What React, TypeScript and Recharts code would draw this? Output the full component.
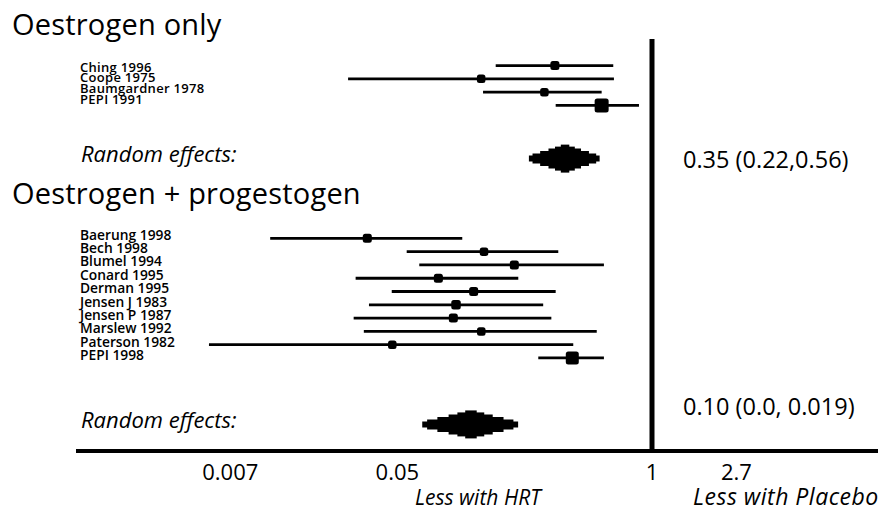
import React from 'react';
import { ScatterChart, Scatter, XAxis, YAxis, ErrorBar, ReferenceLine } from 'recharts';

// ---- Data (odds ratios) ----
const studies1 = ['Ching 1996', 'Coope 1975', 'Baumgardner 1978', 'PEPI 1991'];
const or1 = [0.319, 0.134, 0.282, 0.553];
const lo1 = [0.159, 0.028, 0.137, 0.322];
const hi1 = [0.634, 0.639, 0.553, 0.858];
const weight1 = [9, 8.5, 8.5, 14];
const row1 = [2, 3, 4, 5];

const studies2 = [
  'Baerung 1998', 'Bech 1998', 'Blumel 1994', 'Conard 1995', 'Derman 1995',
  'Jensen J 1983', 'Jensen P 1987', 'Marslew 1992', 'Paterson 1982', 'PEPI 1998',
];
const or2 = [0.0351, 0.1386, 0.198, 0.081, 0.1227, 0.0997, 0.0966, 0.1342, 0.0471, 0.3915];
const lo2 = [0.0112, 0.0558, 0.0647, 0.0306, 0.0468, 0.0358, 0.0299, 0.0337, 0.00545, 0.2624];
const hi2 = [0.1073, 0.332, 0.568, 0.2074, 0.322, 0.278, 0.306, 0.522, 0.396, 0.568];
const weight2 = [9, 8.5, 9, 9, 9, 9.5, 9, 8.5, 8.5, 13];
const row2 = [15, 16, 17, 18, 19, 20, 21, 22, 23, 24];

const groupTitles = ['Oestrogen only', 'Oestrogen + progestogen'];
const summaryOR = [0.36, 0.119];
const summaryLo = [0.235, 0.067];
const summaryHi = [0.54, 0.207];
const summaryRow = [9, 29];
const summaryText = ['0.35 (0.22,0.56)', '0.10 (0.0, 0.019)'];

const tickVals = [0.007, 0.05, 1, 2.7];
const tickLabels = ['0.007', '0.05', '1', '2.7'];

// ---- Styles / layout ----
const FONT = "'Open Sans', sans-serif";
const layerFrac = [1, 0.9, 0.69, 0.46, 0.28, 0.12];
const layerHeight = [6, 10, 15, 20, 24, 28];

const studyData = [
  ...or1.map((v, i) => ({ x: v, y: row1[i], err: [v - lo1[i], hi1[i] - v], size: weight1[i] })),
  ...or2.map((v, i) => ({ x: v, y: row2[i], err: [v - lo2[i], hi2[i] - v], size: weight2[i] })),
];

const summaryData = summaryOR.map((c, i) => {
  const d: any = { x: c, y: summaryRow[i] };
  const lc = Math.log(c);
  const ll = Math.log(summaryLo[i]);
  const lh = Math.log(summaryHi[i]);
  layerFrac.forEach((f, k) => {
    const low = Math.exp(lc - f * (lc - ll));
    const high = Math.exp(lc + f * (lh - lc));
    d['e' + k] = [c - low, high - c];
  });
  return d;
});

const StudyMarker = (props: any) => {
  const { cx, cy, payload } = props;
  const s = payload.size;
  return <rect x={cx - s / 2} y={cy - s / 2} width={s} height={s} rx={2.5} fill="#000" />;
};
const Empty = () => <g />;

export default function App() {
  return (
    <div style={{ position: 'relative', width: 878, height: 507 }}>
      <ScatterChart width={878} height={507} margin={{ top: 31, right: 0, bottom: 0, left: 68 }}>
        <XAxis
          type="number"
          dataKey="x"
          scale="log"
          domain={[0.0011403, 15.6886]}
          allowDataOverflow
          ticks={tickVals}
          interval={0}
          tickFormatter={(v: number) => tickLabels[tickVals.indexOf(v)] ?? String(v)}
          axisLine={{ stroke: '#000', strokeWidth: 4 }}
          tickLine={false}
          tickSize={0}
          tickMargin={13}
          tick={{ fill: '#000', fontSize: 22, fontFamily: FONT }}
          height={64}
        />
        <YAxis type="number" dataKey="y" domain={[0, 31]} reversed hide allowDataOverflow />
        <ReferenceLine x={1} stroke="#000" strokeWidth={5} />
        <Scatter data={studyData} shape={StudyMarker} isAnimationActive={false}>
          <ErrorBar dataKey="err" direction="x" width={0} stroke="#000" strokeWidth={2.8} isAnimationActive={false} />
        </Scatter>
        <Scatter data={summaryData} shape={Empty} isAnimationActive={false}>
          {layerFrac.map((f, k) => (
            <ErrorBar
              key={k}
              dataKey={'e' + k}
              direction="x"
              width={0}
              stroke="#000"
              strokeWidth={layerHeight[k]}
              isAnimationActive={false}
            />
          ))}
        </Scatter>
      </ScatterChart>
      <svg
        width={878}
        height={507}
        style={{ position: 'absolute', left: 0, top: 0, pointerEvents: 'none', overflow: 'visible' }}
        fontFamily={FONT}
      >
        <text x={4} y={27} fontSize={29} fill="#000" letterSpacing={0.2}>{groupTitles[0]}</text>
        <text x={4} y={196} fontSize={29} fill="#000" letterSpacing={0.2}>{groupTitles[1]}</text>
        {studies1.map((s, i) => (
          <text key={s} x={72} y={63.5 + i * 10.7} fontSize={13} fontWeight={600} fill="#000" letterSpacing={0.3}>{s}</text>
        ))}
        {studies2.map((s, i) => (
          <text key={s} x={72} y={231.5 + i * 13.4} fontSize={13.8} fontWeight={600} fill="#000" letterSpacing={0}>{s}</text>
        ))}
        <text x={73} y={154} fontSize={22} fontStyle="italic" fill="#000">Random effects:</text>
        <text x={73} y={420} fontSize={22} fontStyle="italic" fill="#000">Random effects:</text>
        <text x={675} y={160} fontSize={23.5} fill="#000">{summaryText[0]}</text>
        <text x={675} y={407} fontSize={23.5} fill="#000">{summaryText[1]}</text>
        <text x={407} y={497} fontSize={21} fontStyle="italic" fill="#000">Less with HRT</text>
        <text x={685} y={497} fontSize={23} fontStyle="italic" fill="#000" letterSpacing={0.5}>Less with Placebo</text>
      </svg>
    </div>
  );
}
